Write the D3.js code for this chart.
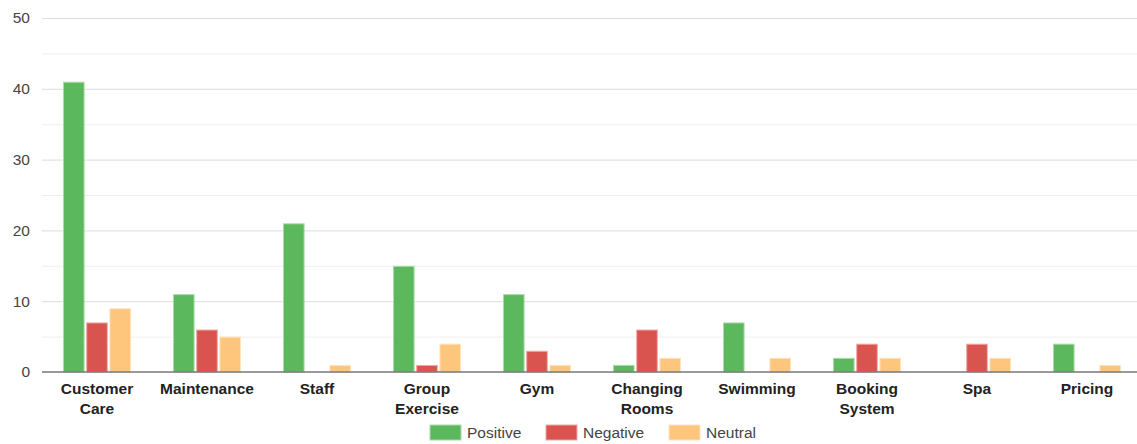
<!DOCTYPE html>
<html><head><meta charset="utf-8">
<script src="https://cdn.jsdelivr.net/npm/d3@7"></script>
<style>body{margin:0;background:#fff;font-family:"Liberation Sans",Arial,sans-serif;}</style>
</head><body><svg id="c" width="1137" height="444"></svg>
<script>
const categories = ["Customer Care","Maintenance","Staff","Group Exercise","Gym","Changing Rooms","Swimming","Booking System","Spa","Pricing"];
const positive = [41,11,21,15,11,1,7,2,0,4];
const negative = [7,6,0,1,3,6,0,4,4,0];
const neutral  = [9,5,1,4,1,2,2,2,2,1];
const seriesNames = ["Positive","Negative","Neutral"];
const seriesColors = ["#5cb85c","#d9534f","#fec67c"];
const seriesStrokes = ["#a8dca8","#f0a9a7","#ffe3bd"];
const yTicks = [0,10,20,30,40,50];
const yMinor = [5,15,25,35,45];

(function(){
const series = [positive, negative, neutral];
const svg = d3.select("#c");
const FS = 15.5;
const mLeft = 42, mRight = 1142, mTop = 18, mBottom = 372;
const y = d3.scaleLinear().domain([0,50]).range([mBottom, mTop]);
const x0 = d3.scaleBand().domain(categories).range([mLeft, mRight]).paddingInner(0).paddingOuter(0);
const x1 = d3.scaleBand().domain(seriesNames).range([21, x0.bandwidth()-21]).paddingInner(0.07);

// minor grid
svg.append("g").selectAll("line").data(yMinor).join("line")
  .attr("x1", mLeft).attr("x2", mRight).attr("y1", d=>y(d)+0.5).attr("y2", d=>y(d)+0.5)
  .attr("stroke","#efefef").attr("stroke-width",1);
// major grid
svg.append("g").selectAll("line").data(yTicks.filter(d=>d>0)).join("line")
  .attr("x1", mLeft).attr("x2", mRight).attr("y1", d=>y(d)+0.5).attr("y2", d=>y(d)+0.5)
  .attr("stroke","#dcdcdc").attr("stroke-width",1);

// y axis labels
const yAxis = d3.axisLeft(y).tickValues(yTicks).tickSize(0).tickPadding(12);
const ga = svg.append("g").attr("transform",`translate(${mLeft},0)`).call(yAxis);
ga.select(".domain").remove();
ga.selectAll("text").attr("font-size",FS).attr("fill","#444").attr("font-family","Liberation Sans, Arial, sans-serif");

// bars
const groups = svg.append("g").selectAll("g").data(categories).join("g")
  .attr("transform", d=>`translate(${x0(d)},0)`);
groups.selectAll("rect").data((d,i)=>seriesNames.map((s,j)=>({s, j, v: series[j][i]})).filter(e=>e.v>0))
  .join("rect")
  .attr("x", d=>x1(d.s)+0.5).attr("width", x1.bandwidth()-1)
  .attr("y", d=>y(d.v)+0.5).attr("height", d=>Math.max(0, y(0)-y(d.v)-0.5))
  .attr("fill", d=>seriesColors[d.j]).attr("stroke", d=>seriesStrokes[d.j]).attr("stroke-width",1);

// zero line
svg.append("line").attr("x1",mLeft).attr("x2",mRight).attr("y1",y(0)).attr("y2",y(0))
  .attr("stroke","#777").attr("stroke-width",1.5);

// x labels
const xl = svg.append("g").selectAll("text").data(categories).join("text")
  .attr("x", d=>x0(d)+x0.bandwidth()/2).attr("y", 394)
  .attr("text-anchor","middle").attr("font-size",FS).attr("font-weight","bold").attr("fill","#222")
  .attr("font-family","Liberation Sans, Arial, sans-serif");
xl.each(function(d){
  const words = d.split(" ");
  const t = d3.select(this);
  words.forEach((w,i)=>{
    t.append("tspan").attr("x", x0(d)+x0.bandwidth()/2).attr("dy", i===0?0:20).text(w);
  });
});

// legend
const legendX = [430, 546, 669];
const lg = svg.append("g").selectAll("g").data(seriesNames).join("g")
  .attr("transform",(d,i)=>`translate(${legendX[i]},425)`);
lg.append("rect").attr("width",31).attr("height",15).attr("fill",(d,i)=>seriesColors[i])
  .attr("stroke",(d,i)=>seriesStrokes[i]).attr("stroke-width",1);
lg.append("text").attr("x",37).attr("y",13).attr("font-size",FS).attr("fill","#444")
  .attr("font-family","Liberation Sans, Arial, sans-serif").text(d=>d);
})();
</script></body></html>
